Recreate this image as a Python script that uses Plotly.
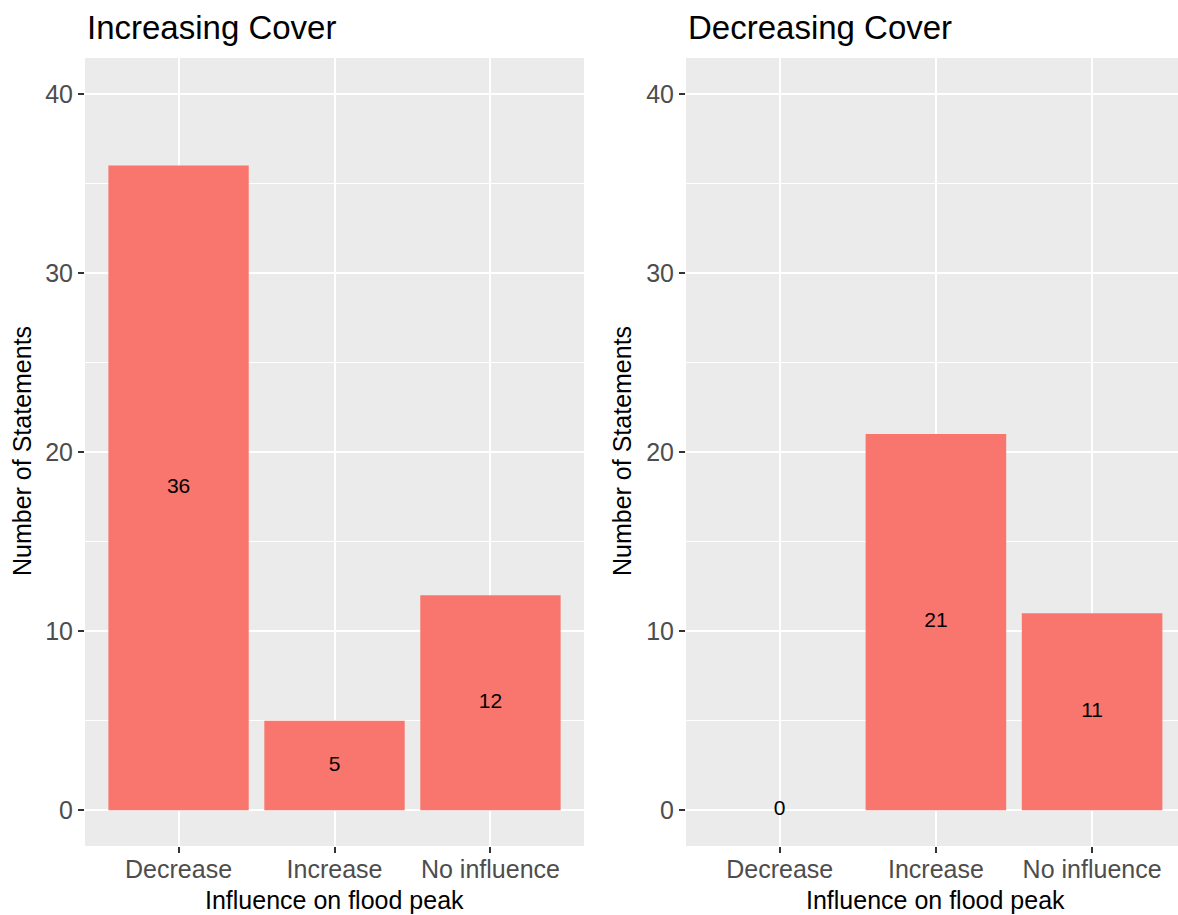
import plotly.graph_objects as go

categories = ["Decrease", "Increase", "No influence"]
increasing_values = [36, 5, 12]
decreasing_values = [0, 21, 11]
panel_titles = ["Increasing Cover", "Decreasing Cover"]
y_ticks = [0, 10, 20, 30, 40]

W, H = 1178, 915
BAR = "#F8766D"
PANEL_BG = "#EBEBEB"
FONT = "Liberation Sans, Arial, sans-serif"

fig = go.Figure()

panels = [
    dict(vals=increasing_values, xa="x", ya="y", dom=[85 / W, 584 / W], xr=[-0.6, 2.6]),
    dict(vals=decreasing_values, xa="x2", ya="y2", dom=[686 / W, 1.0], xr=[-0.6, 2.55]),
]

ydom = [1 - 846 / H, 1 - 58 / H]

for i, p in enumerate(panels):
    fig.add_trace(go.Bar(
        x=categories, y=p["vals"], width=0.9, marker=dict(color=BAR, line=dict(width=0)),
        xaxis=p["xa"], yaxis=p["ya"], showlegend=False, hoverinfo="skip",
    ))
    fig.add_trace(go.Scatter(
        x=categories, y=[v / 2 for v in p["vals"]], mode="text",
        text=[str(v) for v in p["vals"]],
        textfont=dict(family=FONT, size=21, color="black"),
        xaxis=p["xa"], yaxis=p["ya"], showlegend=False, hoverinfo="skip",
    ))

axis_common = dict(
    showline=False, zeroline=False, ticks="outside", ticklen=6, tickwidth=1.5,
    tickcolor="#333333", tickfont=dict(family=FONT, size=25, color="#4D4D4D"),
    gridcolor="white", gridwidth=2.2, showgrid=True,
)

layout = dict(
    width=W, height=H, margin=dict(l=0, r=0, t=0, b=0),
    paper_bgcolor="white", plot_bgcolor=PANEL_BG, bargap=0.1,
    font=dict(family=FONT),
)

for i, p in enumerate(panels):
    sfx = "" if i == 0 else "2"
    layout["xaxis" + sfx] = dict(
        axis_common, domain=p["dom"], range=p["xr"], type="category",
        anchor="y" + sfx, categoryorder="array", categoryarray=categories,
        ticklabelstandoff=-5,
    )
    layout["yaxis" + sfx] = dict(
        axis_common, domain=ydom, range=[-2, 42], anchor="x" + sfx,
        tickvals=y_ticks, ticktext=[str(t) for t in y_ticks],
        minor=dict(dtick=5, tick0=5, showgrid=True, gridcolor="white", gridwidth=1.1, ticks=""),
    )

fig.update_layout(**layout)

annotations = []
title_x = [85, 686]
ylab_x = [22, 622]
xlab_center = [(85 + 584) / 2, (686 + 1186) / 2]
for i in range(2):
    annotations.append(dict(
        text=panel_titles[i], x=title_x[i] / W, y=1 - 28 / H, xref="paper", yref="paper",
        xanchor="left", yanchor="middle", showarrow=False,
        font=dict(family=FONT, size=33, color="black"),
    ))
    annotations.append(dict(
        text="Number of Statements", x=ylab_x[i] / W, y=1 - 451 / H, xref="paper", yref="paper",
        xanchor="center", yanchor="middle", showarrow=False, textangle=-90,
        font=dict(family=FONT, size=25, color="black"),
    ))
    annotations.append(dict(
        text="Influence on flood peak", x=xlab_center[i] / W, y=1 - 900 / H, xref="paper", yref="paper",
        xanchor="center", yanchor="middle", showarrow=False,
        font=dict(family=FONT, size=25, color="black"),
    ))
fig.update_layout(annotations=annotations)

fig.write_html(
    "out.html",
    config={"displayModeBar": False},
    post_script="document.body.style.margin='0px';document.body.style.overflow='hidden';",
)
